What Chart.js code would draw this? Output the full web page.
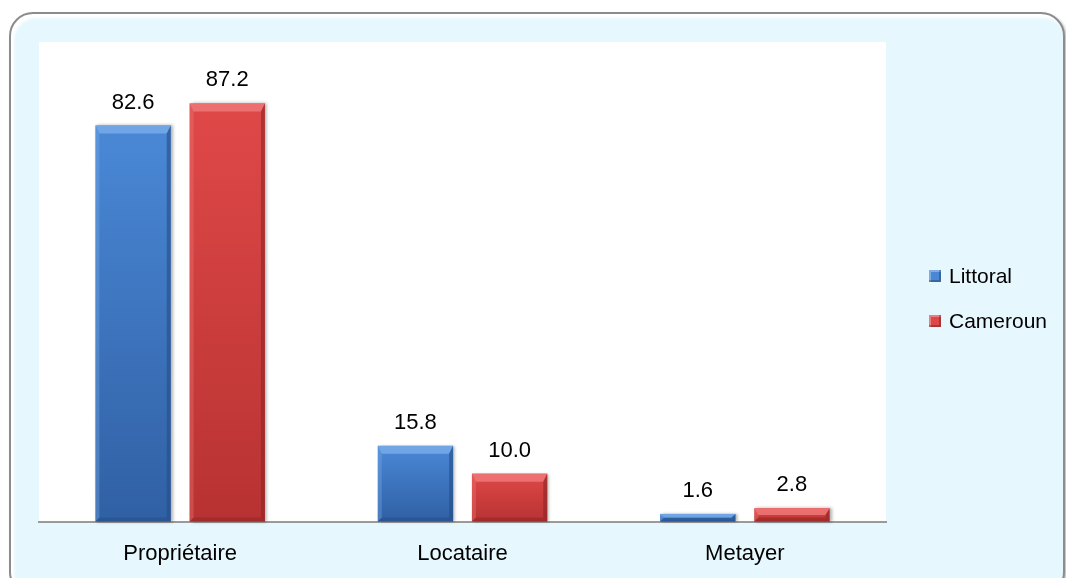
<!DOCTYPE html>
<html>
<head>
<meta charset="utf-8">
<script src="https://cdn.jsdelivr.net/npm/chart.js@4.4.1/dist/chart.umd.min.js"></script>
<style>
  html, body { margin: 0; padding: 0; background: #fff; }
  body { width: 1066px; height: 578px; position: relative; overflow: hidden; font-family: "Liberation Sans", Arial, sans-serif; }
  .frame {
    position: absolute; left: 9px; top: 12px; width: 1052px; height: 580px;
    border: 2px solid #8c8c8c; border-radius: 24px; background: #e6f8fd;
    box-shadow: inset 3px 4px 3px #fff, 2px 2px 3px rgba(0,0,0,0.25);
  }
  #chart { position: absolute; left: 0; top: 0; }
  .legend { position: absolute; left: 929px; top: 253px; font-size: 21px; color: #000; }
  .legend div { display: flex; align-items: center; height: 45px; }
  .legend span.box { width: 12px; height: 12px; margin-right: 8px; box-shadow: inset -2px -2px 0 rgba(0,0,0,0.25), inset 2px 2px 0 rgba(255,255,255,0.3); }
</style>
</head>
<body>
<div class="frame"></div>
<canvas id="chart" width="1066" height="597"></canvas>
<div class="legend" id="legend"></div>
<script>
const categories = ["Propriétaire", "Locataire", "Metayer"];
const seriesNames = ["Littoral", "Cameroun"];
const littoral = [82.6, 15.8, 1.6];
const cameroun = [87.2, 10.0, 2.8];

const palette = [
  { top: "#4a88d6", bottom: "#3060a4", light: "#7aaeea", dark: "#244c86" },
  { top: "#e04848", bottom: "#b83232", light: "#f07a7a", dark: "#8e2424" }
];

// white plot area
const plotBg = {
  id: "plotBg",
  beforeDraw(chart) {
    const { ctx, chartArea: a } = chart;
    ctx.save();
    ctx.fillStyle = "#fff";
    ctx.fillRect(a.left, a.top, a.right - a.left, a.bottom - a.top);
    ctx.restore();
  }
};

// bevelled bars + value labels
const bevelBars = {
  id: "bevelBars",
  afterDatasetsDraw(chart) {
    const ctx = chart.ctx;
    chart.data.datasets.forEach((ds, di) => {
      const meta = chart.getDatasetMeta(di);
      const c = palette[di];
      meta.data.forEach((bar, i) => {
        const x0 = bar.x - bar.width / 2, x1 = bar.x + bar.width / 2;
        const y0 = bar.y, y1 = bar.base;
        const h = y1 - y0;
        const b = Math.min(8, h / 2);
        const s = Math.min(4, bar.width / 4);
        ctx.save();
        ctx.shadowColor = "rgba(0,0,0,0.3)";
        ctx.shadowOffsetX = 2;
        ctx.shadowBlur = 3;
        const g = ctx.createLinearGradient(0, y0, 0, y1);
        g.addColorStop(0, c.top);
        g.addColorStop(1, c.bottom);
        ctx.fillStyle = g;
        ctx.fillRect(x0, y0, x1 - x0, h);
        ctx.shadowColor = "transparent";
        // top bevel
        ctx.fillStyle = c.light;
        ctx.globalAlpha = 0.8;
        ctx.beginPath();
        ctx.moveTo(x0, y0); ctx.lineTo(x1, y0); ctx.lineTo(x1 - s, y0 + b); ctx.lineTo(x0 + s, y0 + b); ctx.closePath(); ctx.fill();
        // right bevel
        ctx.fillStyle = c.dark;
        ctx.globalAlpha = 0.6;
        ctx.beginPath();
        ctx.moveTo(x1, y0); ctx.lineTo(x1, y1); ctx.lineTo(x1 - s, y1 - Math.min(s, h / 2)); ctx.lineTo(x1 - s, y0 + b); ctx.closePath(); ctx.fill();
        // bottom bevel
        ctx.globalAlpha = 0.5;
        ctx.beginPath();
        ctx.moveTo(x0, y1); ctx.lineTo(x1, y1); ctx.lineTo(x1 - s, y1 - Math.min(s, h / 2)); ctx.lineTo(x0 + s, y1 - Math.min(s, h / 2)); ctx.closePath(); ctx.fill();
        // left bevel
        ctx.fillStyle = c.light;
        ctx.globalAlpha = 0.35;
        ctx.beginPath();
        ctx.moveTo(x0, y0); ctx.lineTo(x0 + s, y0 + b); ctx.lineTo(x0 + s, y1 - Math.min(s, h / 2)); ctx.lineTo(x0, y1); ctx.closePath(); ctx.fill();
        ctx.restore();

        ctx.save();
        ctx.fillStyle = "#000";
        ctx.font = '22px "Liberation Sans", Arial, sans-serif';
        ctx.textAlign = "center";
        ctx.textBaseline = "bottom";
        ctx.fillText(ds.data[i].toFixed(1), bar.x, y0 - 12);
        ctx.restore();
      });
    });
  }
};

new Chart(document.getElementById("chart"), {
  type: "bar",
  data: {
    labels: categories,
    datasets: [
      { label: seriesNames[0], data: littoral, backgroundColor: "rgba(0,0,0,0)" },
      { label: seriesNames[1], data: cameroun, backgroundColor: "rgba(0,0,0,0)" }
    ]
  },
  options: {
    responsive: false,
    animation: false,
    layout: { padding: { left: 39, top: 42, right: 180, bottom: 11 } },
    datasets: { bar: { categoryPercentage: 0.667, barPercentage: 0.8 } },
    plugins: { legend: { display: false }, tooltip: { enabled: false } },
    scales: {
      y: { display: false, min: 0, max: 100 },
      x: {
        grid: { display: false, drawTicks: false },
        border: { display: true, color: "#9a9a9a", width: 2 },
        ticks: { color: "#000", padding: 19, font: { family: '"Liberation Sans", Arial, sans-serif', size: 22 } }
      }
    }
  },
  plugins: [plotBg, bevelBars]
});

document.getElementById("legend").innerHTML = seriesNames.map((n, i) =>
  `<div><span class="box" style="background:${palette[i].top}"></span>${n}</div>`
).join("");
</script>
</body>
</html>
